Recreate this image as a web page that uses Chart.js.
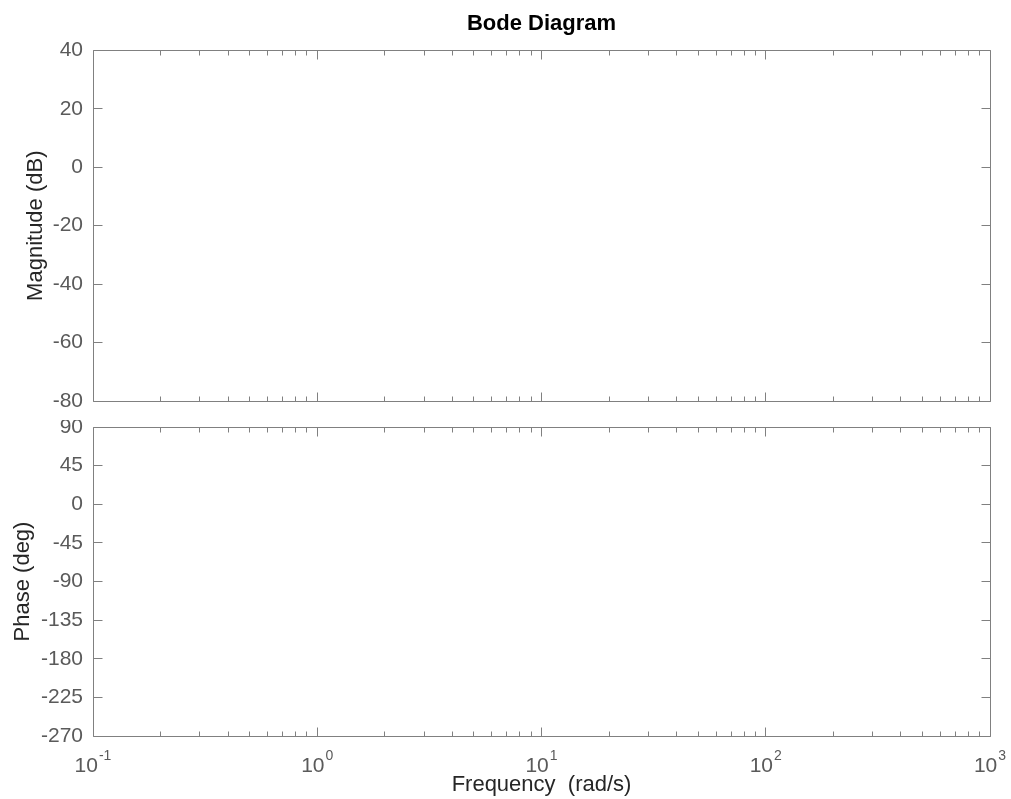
<!DOCTYPE html>
<html>
<head>
<meta charset="utf-8">
<title>Bode Diagram</title>
<script src="https://cdn.jsdelivr.net/npm/chart.js@4.4.1/dist/chart.umd.min.js"></script>
<style>
  html, body { margin: 0; padding: 0; background: #fff; }
  #wrap { position: relative; width: 1011px; height: 799px; }
  canvas { position: absolute; left: 0; }
  #magChart { top: 0; }
  #phaseChart { top: 420px; }
</style>
</head>
<body>
<div id="wrap">
  <canvas id="magChart" width="1011" height="420"></canvas>
  <canvas id="phaseChart" width="1011" height="379"></canvas>
</div>
<script>
// Frequency axis (rad/s): decades and the exponents shown under them
const freqDecades = [0.1, 1, 10, 100, 1000];
const freqExponents = ['-1', '0', '1', '2', '3'];

// Magnitude axis (dB)
const magTicks = [40, 20, 0, -20, -40, -60, -80];

// Phase axis (deg)
const phaseTicks = [90, 45, 0, -45, -90, -135, -180, -225, -270];

// Response data - the figure has no curve drawn, so these stay empty
const freqPoints = [];
const magValues = [];
const phaseValues = [];

// Styling
const FONT = "'Liberation Sans', Arial, Helvetica, sans-serif";
const lineColor = '#808080';
const tickColor = '#5a5a5a';
const labelColor = '#262626';

// Decade ticks are major, the 2..9 multiples are minor
function freqTickList() {
  const list = [];
  freqDecades.forEach((d, i) => {
    list.push({ value: d, major: true });
    if (i < freqDecades.length - 1) {
      for (let k = 2; k <= 9; k++) list.push({ value: d * k, major: false });
    }
  });
  return list;
}

const snap = v => Math.floor(v) + 0.5;

// Box round the plot area with inward ticks on all four sides (MATLAB look)
const boxPlugin = {
  id: 'matlabBox',
  afterDraw(chart, args, opts) {
    const { ctx, chartArea: a } = chart;
    const xs = chart.scales.x;
    const ys = chart.scales.y;
    const L = snap(a.left), R = snap(a.right), T = snap(a.top), B = snap(a.bottom);

    ctx.save();
    ctx.strokeStyle = lineColor;
    ctx.lineWidth = 1;
    ctx.beginPath();
    ctx.rect(L, T, R - L, B - T);

    xs.ticks.forEach(t => {
      const px = snap(xs.getPixelForValue(t.value));
      const len = t.major ? 9 : 5;
      ctx.moveTo(px, B); ctx.lineTo(px, B - len);
      ctx.moveTo(px, T); ctx.lineTo(px, T + len);
    });
    ys.ticks.forEach(t => {
      const py = snap(ys.getPixelForValue(t.value));
      ctx.moveTo(L, py); ctx.lineTo(L + 9, py);
      ctx.moveTo(R, py); ctx.lineTo(R - 9, py);
    });
    ctx.stroke();

    // Decade labels as 10 with a raised exponent
    if (opts && opts.decadeLabels) {
      ctx.fillStyle = tickColor;
      ctx.textBaseline = 'alphabetic';
      ctx.textAlign = 'left';
      freqDecades.forEach((d, i) => {
        const px = xs.getPixelForValue(d);
        ctx.font = '21px ' + FONT;
        const baseW = ctx.measureText('10').width;
        ctx.font = '14px ' + FONT;
        const expW = ctx.measureText(freqExponents[i]).width;
        const x0 = px - (baseW + 1 + expW) / 2;
        ctx.font = '21px ' + FONT;
        ctx.fillText('10', x0, a.bottom + 36);
        ctx.font = '14px ' + FONT;
        ctx.fillText(freqExponents[i], x0 + baseW + 1, a.bottom + 24);
      });
    }
    ctx.restore();
  }
};

function makeChart(canvasId, yValues, yTicks, yTitle, cfg) {
  const ctx = document.getElementById(canvasId);
  return new Chart(ctx, {
    type: 'line',
    data: {
      datasets: [{
        data: freqPoints.map((f, i) => ({ x: f, y: yValues[i] })),
        borderColor: '#0072bd',
        borderWidth: 1.5,
        pointRadius: 0
      }]
    },
    options: {
      responsive: false,
      animation: false,
      layout: { padding: cfg.padding },
      plugins: {
        legend: { display: false },
        tooltip: { enabled: false },
        title: cfg.title,
        matlabBox: { decadeLabels: cfg.decadeLabels }
      },
      scales: {
        x: {
          type: 'logarithmic',
          min: freqDecades[0],
          max: freqDecades[freqDecades.length - 1],
          afterBuildTicks: scale => { scale.ticks = freqTickList(); },
          afterFit: scale => {
            scale.height = cfg.xHeight;
            scale.paddingLeft = 0;
            scale.paddingRight = 0;
          },
          ticks: { display: false },
          grid: { display: false, drawTicks: false },
          border: { display: false },
          title: cfg.xTitle
        },
        y: {
          type: 'linear',
          min: Math.min(...yTicks),
          max: Math.max(...yTicks),
          afterBuildTicks: scale => { scale.ticks = yTicks.map(v => ({ value: v })); },
          afterFit: scale => {
            scale.width = 93;
            // end labels may hang over the plot edges, as in the original
            scale.paddingTop = 0;
            scale.paddingBottom = 0;
          },
          ticks: {
            autoSkip: false,
            color: tickColor,
            padding: 10,
            font: { family: FONT, size: 21 }
          },
          grid: { display: false, drawTicks: false },
          border: { display: false },
          title: {
            display: true,
            text: yTitle,
            color: labelColor,
            font: { family: FONT, size: 22 },
            padding: { top: cfg.yTitlePad, bottom: 0 }
          }
        }
      }
    },
    plugins: [boxPlugin]
  });
}

window.addEventListener('load', function() {
  makeChart('magChart', magValues, magTicks, 'Magnitude (dB)', {
    padding: { left: 0, right: 21, top: 0, bottom: 0 },
    xHeight: 19,
    yTitlePad: 23,
    decadeLabels: false,
    xTitle: { display: false },
    title: {
      display: true,
      text: 'Bode Diagram',
      color: '#000',
      fullSize: false,
      font: { family: FONT, size: 22, weight: 'bold' },
      padding: { top: 11, bottom: 13 }
    }
  });

  makeChart('phaseChart', phaseValues, phaseTicks, 'Phase (deg)', {
    padding: { left: 0, right: 21, top: 7, bottom: 0 },
    xHeight: 63,
    yTitlePad: 10,
    decadeLabels: true,
    xTitle: {
      display: true,
      text: 'Frequency  (rad/s)',
      color: labelColor,
      font: { family: FONT, size: 22 },
      padding: { top: 0, bottom: 1 }
    },
    title: { display: false }
  });
});
</script>
</body>
</html>
